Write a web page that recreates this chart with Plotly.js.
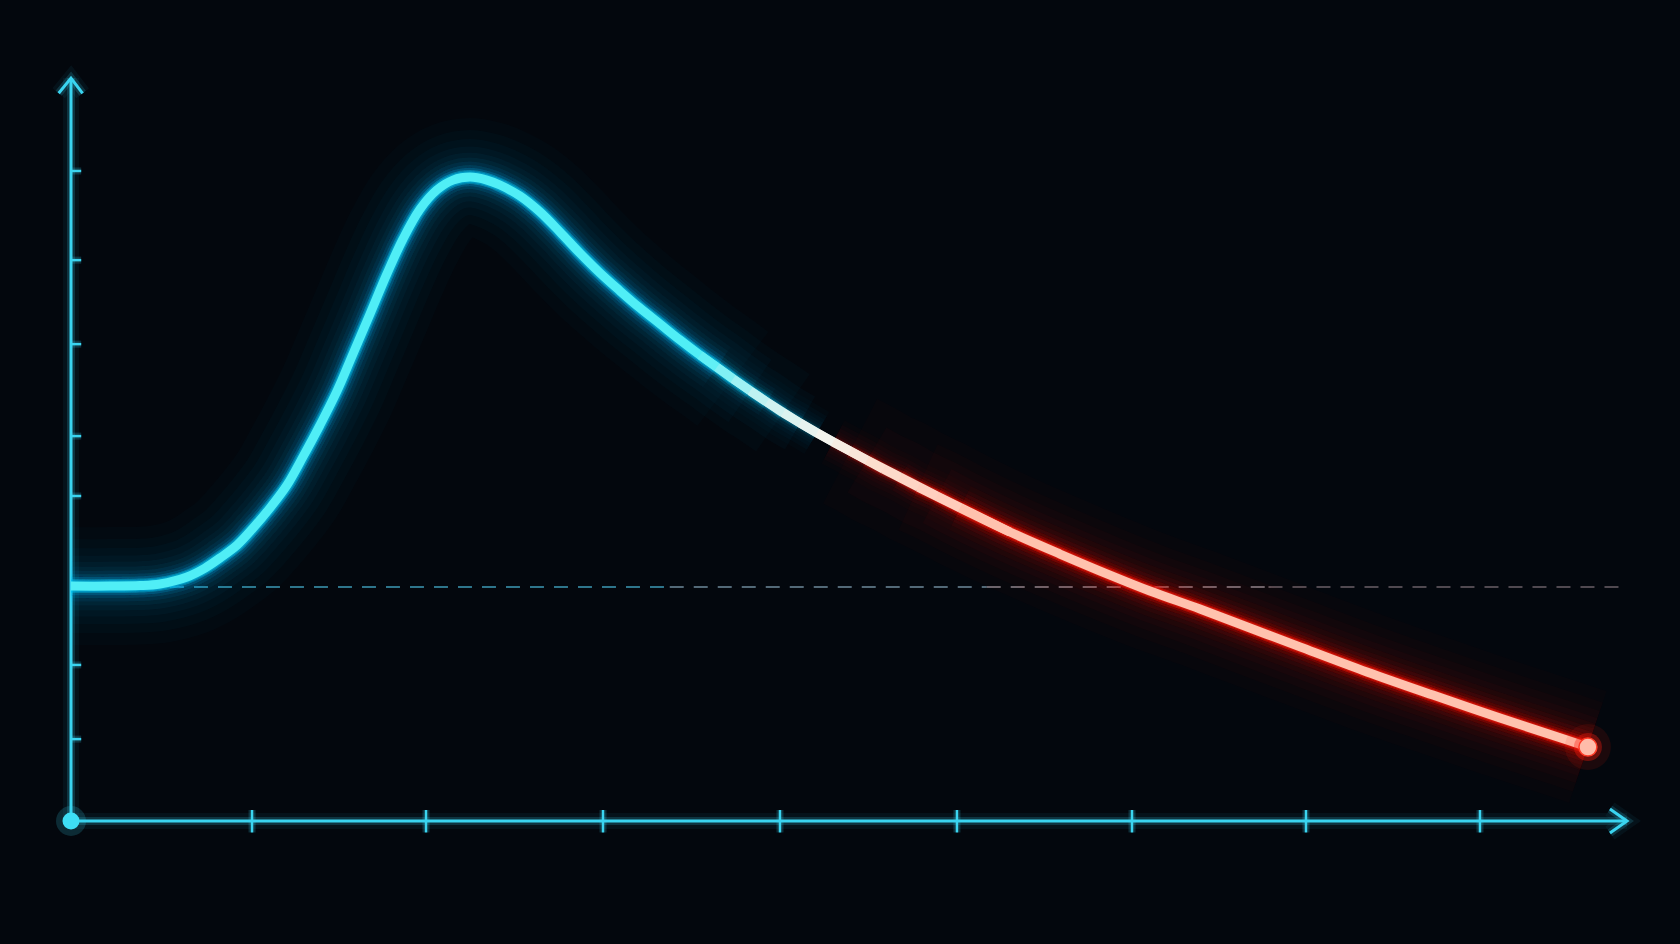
<!DOCTYPE html>
<html><head><meta charset="utf-8">
<script src="https://cdn.plot.ly/plotly-3.0.1.min.js"></script>
<style>html,body{margin:0;padding:0;background:#03070d;overflow:hidden}#chart{width:1680px;height:944px}</style>
</head><body><div id="chart"></div>
<script>
// ---- data ----
const curveX = [0.000,0.221,0.392,0.505,0.659,0.761,0.846,0.943,1.034,1.130,1.227,1.317,1.414,1.511,1.601,1.698,1.794,1.885,1.982,2.078,2.169,2.266,2.362,2.436,2.550,2.663,2.777,2.890,3.004,3.118,3.231,3.345,3.458,3.572,3.668,3.759,3.856,3.952,4.043,4.140,4.236,4.327,4.424,4.520,4.611,4.708,4.810,4.918,5.048,5.332,5.616,5.900,6.127,6.411,6.695,6.979,7.359,7.734,8.115,8.495,8.614];
const curveY = [100.4,100.4,100.6,101.3,104.3,108.1,112.4,117.9,125.2,133.8,143.6,155.6,169.2,183.8,199.6,216.7,233.8,248.7,261.5,269.7,273.9,275.2,273.9,271.8,267.1,260.3,251.7,242.7,234.2,226.5,219.2,212.4,205.6,199.1,194.0,188.9,183.8,179.1,174.4,170.1,165.8,162.0,158.1,154.3,150.4,147.0,142.7,138.9,133.8,123.5,114.1,105.1,98.3,90.6,82.5,74.4,63.7,53.8,44.0,34.6,31.6];
const xTickVals = [1.028,2.016,3.021,4.026,5.031,6.025,7.013,8.001];
const yTickVals = [35.0,66.7,138.9,164.5,203.8,239.7,277.8];
const baselineY = 100;
const baselineStartX = 0.562;
const baselineEndX = 8.842;
const xAxisEndX = 8.836;
const yAxisTopY = 317.5;

// ---- styling ----
const AXIS = [58,212,240];
const CYAN_GLOW = [0,196,240], RED_GLOW = [255,34,20];
const coreStops = [[3.57,[80,238,246]],[3.93,[200,242,242]],[4.28,[244,244,238]],[4.57,[252,222,206]],[4.9,[255,206,190]],[5.5,[255,198,178]],[8.7,[255,186,166]]];
const glowLayers = [[118,0.02],[94,0.022],[76,0.026],[61,0.032],[49,0.04],[39,0.055],[31,0.075],[24,0.11],[18.5,0.2],[14,0.4],[11.5,0.45]];
const coreWidth = 9;
const cyanFade = [3.66,4.30];   // cyan glow fades out over this x span
const redFade = [4.30,5.05];    // red glow fades in over this x span
const bandAEnd = 3.57, bandCStart = 5.04;

function mix(stops, x){
  if (x <= stops[0][0]) return stops[0][1];
  for (let i=1;i<stops.length;i++){
    if (x <= stops[i][0]){
      const t=(x-stops[i-1][0])/(stops[i][0]-stops[i-1][0]);
      return stops[i-1][1].map((v,k)=>Math.round(v+(stops[i][1][k]-v)*t));
    }
  }
  return stops[stops.length-1][1];
}
const rgba=(c,a)=>`rgba(${c[0]},${c[1]},${c[2]},${a})`;
function ln(x,y,color,width,extra){
  const t={type:'scatter',mode:'lines',x:x,y:y,line:{color:color,width:width},hoverinfo:'skip',showlegend:false};
  if (extra) Object.assign(t.line, extra);
  return t;
}
const SPL={shape:'spline',smoothing:1};

const traces=[];
// dashed reference line
const dashPieces=[[baselineStartX,3.4,'rgba(70,180,212,0.85)'],[3.4,5.2,'rgba(140,175,195,0.78)'],[5.2,6.8,'rgba(195,185,195,0.72)'],[6.8,baselineEndX,'rgba(170,150,160,0.62)']];
dashPieces.forEach(p=>traces.push(ln([p[0],p[1]],[baselineY,baselineY],p[2],1.6,{dash:'14px,10px'})));

// axes glow + lines
const axes=[
  {x:[0,0],y:[0,yAxisTopY]},
  {x:[-0.07,0,0.066],y:[yAxisTopY-6.5,yAxisTopY,yAxisTopY-6.5]},
  {x:[0,xAxisEndX],y:[0,0]},
  {x:[xAxisEndX-0.097,xAxisEndX,xAxisEndX-0.097],y:[5.1,0,-5.1]}
];
[[16,0.06],[8,0.18]].forEach(g=>axes.forEach(a=>traces.push(ln(a.x,a.y,rgba(AXIS,g[1]),g[0]))));
axes.forEach(a=>traces.push(ln(a.x,a.y,rgba(AXIS,1),3)));
// ticks
const ytx=[],yty=[];
yTickVals.forEach(v=>{ytx.push(0,0.058,null);yty.push(v,v,null);});
const xtx=[],xty=[];
xTickVals.forEach(v=>{xtx.push(v,v,null);xty.push(-4.9,4.7,null);});
traces.push(ln(ytx,yty,rgba(AXIS,0.2),7));
traces.push(ln(xtx,xty,rgba(AXIS,0.2),7));
traces.push(ln(ytx,yty,rgba(AXIS,1),2.5));
traces.push(ln(xtx,xty,rgba(AXIS,1),2.5));

// glow: cyan and red smooth bands, cross-faded by staggered ends
const idxIn = r => curveX.map((v,i)=>i).filter(i=>curveX[i]>=r[0]&&curveX[i]<=r[1]);
const cyanEnds = idxIn(cyanFade), redStarts = idxIn(redFade);
function pick(list,n,f){
  if (n<=1) return [list[Math.round(f*(list.length-1))]];
  const out=[];
  for(let k=0;k<n;k++) out.push(list[Math.round(k*(list.length-1)/(n-1))]);
  return Array.from(new Set(out));
}
const singleFrac=[0.1,0.7,0.35,0.9,0.55];
glowLayers.forEach((g,li)=>{
  const n=Math.max(1,Math.min(cyanEnds.length,Math.floor(g[1]/0.02)));
  const f=singleFrac[li%singleFrac.length];
  const ce=pick(cyanEnds,n,f), rs=pick(redStarts,n,f);
  const ac=1-Math.pow(1-g[1],1/ce.length), ar=1-Math.pow(1-g[1],1/rs.length);
  ce.forEach(e=>traces.push(ln(curveX.slice(0,e+1),curveY.slice(0,e+1),rgba(CYAN_GLOW,ac.toFixed(3)),g[0],SPL)));
  rs.forEach(s=>traces.push(ln(curveX.slice(s),curveY.slice(s),rgba(RED_GLOW,ar.toFixed(3)),g[0],SPL)));
});

// core: smooth bands at the ends, overlapping short pieces through the colour change
const iA = curveX.findIndex(v=>v>=bandAEnd);
const iC = curveX.findIndex(v=>v>=bandCStart);
traces.push(ln(curveX.slice(0,iA+2),curveY.slice(0,iA+2),rgba(mix(coreStops,0),1),coreWidth,SPL));
for(let i=iA;i<iC;i++){
  const m=(curveX[i]+curveX[i+1])/2;
  traces.push(ln(curveX.slice(i,i+3),curveY.slice(i,i+3),rgba(mix(coreStops,m),1),coreWidth));
}
traces.push(ln(curveX.slice(iC),curveY.slice(iC),rgba(mix(coreStops,6.5),1),coreWidth,SPL));

// origin and end dots
const mk=(x,y,size,color,line)=>({type:'scatter',mode:'markers',x:x,y:y,marker:Object.assign({size:size,color:color},line?{line:line}:{}),hoverinfo:'skip',showlegend:false,cliponaxis:false});
traces.push(mk([0],[0],30,rgba(AXIS,0.18)));
traces.push(mk([0],[0],17,'rgb(62,222,245)'));
const ex=[curveX[curveX.length-1]], ey=[curveY[curveY.length-1]];
traces.push(mk(ex,ey,46,'rgba(255,25,10,0.10)'));
traces.push(mk(ex,ey,28,'rgba(255,30,15,0.35)'));
traces.push(mk(ex,ey,18,'rgb(255,188,170)',{color:'rgb(255,60,40)',width:1.5}));

const layout={
  width:1680,height:944,
  margin:{l:10,r:10,t:61,b:6},
  paper_bgcolor:'#03070d',plot_bgcolor:'#03070d',
  xaxis:{range:[-0.3464,9.0801],visible:false,fixedrange:true},
  yaxis:{range:[-50,324.8],visible:false,fixedrange:true},
  showlegend:false
};
Plotly.newPlot('chart',traces,layout,{staticPlot:true,displayModeBar:false});
</script></body></html>
